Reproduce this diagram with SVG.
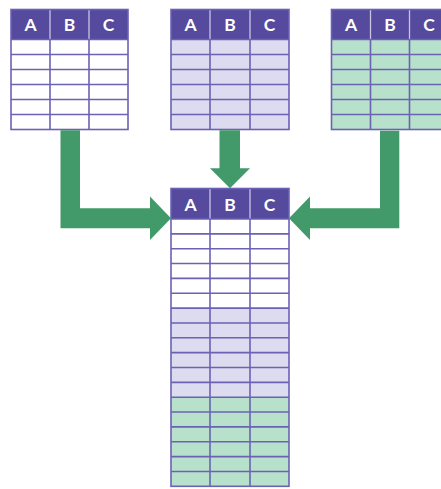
<svg xmlns="http://www.w3.org/2000/svg" width="441" height="489" viewBox="0 0 441 489">
<style>
.hdr{fill:#554a9e}
.hsep{stroke:#c9c5e6;stroke-width:1.3}
.grid{stroke:#6b62b4;stroke-width:1.6;fill:none}
.w{fill:#ffffff}
.lav{fill:#dddbef}
.grn{fill:#b8e1cc}
.lbl{font-family:Lato,"Open Sans","Liberation Sans",sans-serif;font-size:17.5px;font-weight:bold;fill:#ffffff;text-anchor:middle}
.arrow{fill:#429a6b}
</style>
<rect width="441" height="489" fill="#ffffff"/>

<g id="table-left">
<rect class="w" x="11" y="39.5" width="117" height="90"/>
<rect class="hdr" x="11" y="9.5" width="117" height="30"/>
<path class="hsep" d="M50 9.5V39.5M89 9.5V39.5"/>
<path class="grid" d="M11 39.5H128M11 54.5H128M11 69.5H128M11 84.5H128M11 99.5H128M11 114.5H128M50 39.5V129.5M89 39.5V129.5"/>
<rect class="grid" x="11" y="9.5" width="117" height="120"/>
<text class="lbl" x="30.5" y="31">A</text>
<text class="lbl" x="69.5" y="31">B</text>
<text class="lbl" x="108.5" y="31">C</text>
</g>

<g id="table-mid">
<rect class="lav" x="171" y="39.5" width="118" height="90"/>
<rect class="hdr" x="171" y="9.5" width="118" height="30"/>
<path class="hsep" d="M210 9.5V39.5M250 9.5V39.5"/>
<path class="grid" d="M171 39.5H289M171 54.5H289M171 69.5H289M171 84.5H289M171 99.5H289M171 114.5H289M210 39.5V129.5M250 39.5V129.5"/>
<rect class="grid" x="171" y="9.5" width="118" height="120"/>
<text class="lbl" x="190.5" y="31">A</text>
<text class="lbl" x="230" y="31">B</text>
<text class="lbl" x="269.5" y="31">C</text>
</g>

<g id="table-right">
<rect class="grn" x="331.5" y="39.5" width="117" height="90"/>
<rect class="hdr" x="331.5" y="9.5" width="117" height="30"/>
<path class="hsep" d="M370.5 9.5V39.5M409.5 9.5V39.5"/>
<path class="grid" d="M331.5 39.5H448.5M331.5 54.5H448.5M331.5 69.5H448.5M331.5 84.5H448.5M331.5 99.5H448.5M331.5 114.5H448.5M370.5 39.5V129.5M409.5 39.5V129.5"/>
<rect class="grid" x="331.5" y="9.5" width="117" height="120"/>
<text class="lbl" x="351" y="31">A</text>
<text class="lbl" x="390" y="31">B</text>
<text class="lbl" x="429" y="31">C</text>
</g>

<g id="table-result">
<rect class="w" x="171" y="219" width="118" height="89.1"/>
<rect class="lav" x="171" y="308.1" width="118" height="89.1"/>
<rect class="grn" x="171" y="397.2" width="118" height="89.1"/>
<rect class="hdr" x="171" y="188.5" width="118" height="30.5"/>
<path class="hsep" d="M210 188.5V219M250 188.5V219"/>
<path class="grid" d="M171 219H289M171 233.85H289M171 248.7H289M171 263.55H289M171 278.4H289M171 293.25H289M171 308.1H289M171 322.95H289M171 337.8H289M171 352.65H289M171 367.5H289M171 382.35H289M171 397.2H289M171 412.05H289M171 426.9H289M171 441.75H289M171 456.6H289M171 471.45H289M210 219V486.3M250 219V486.3"/>
<rect class="grid" x="171" y="188.5" width="118" height="297.8"/>
<text class="lbl" x="190.5" y="210.5">A</text>
<text class="lbl" x="230" y="210.5">B</text>
<text class="lbl" x="269.5" y="210.5">C</text>
</g>

<g id="connectors">
<polygon class="arrow" points="60.5,130.3 80,130.3 80,208.3 150,208.3 150,196.5 171,218.3 150,240 150,228.3 60.5,228.3"/>
<polygon class="arrow" points="219.5,130.3 240,130.3 240,168.3 250,168.3 230,188.3 210,168.3 219.5,168.3"/>
<polygon class="arrow" points="399.3,130.8 380,130.8 380,208.3 310,208.3 310,196.5 289,218.3 310,240 310,228.3 399.3,228.3"/>
</g>
</svg>
